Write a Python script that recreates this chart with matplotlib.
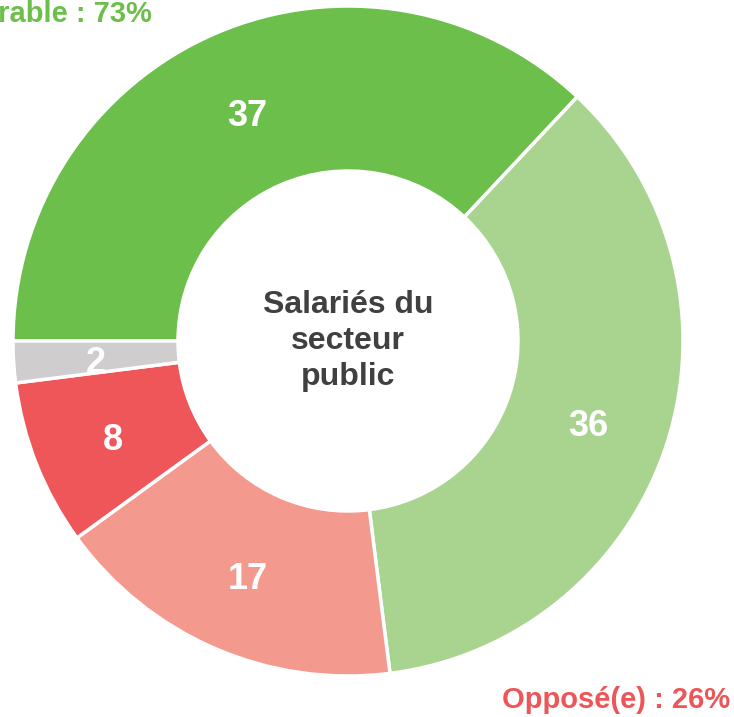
import matplotlib.pyplot as plt

plt.rcParams['font.family'] = ['Liberation Sans', 'DejaVu Sans']

values = [37, 36, 17, 8, 2]
colors = ['#6CBF4B', '#A9D48F', '#F4998E', '#EF565A', '#CFCDCE']
center_text = 'Salariés du\nsecteur\npublic'
fav_label = 'Favorable : 73%'
opp_label = 'Opposé(e) : 26%'

W, H = 734, 717
fig = plt.figure(figsize=(W / 100, H / 100), dpi=100)
ax = fig.add_axes([0, 0, 1, 1])
ax.set_xlim(0, W)
ax.set_ylim(0, H)
ax.set_aspect('equal')
ax.axis('off')

cx, cy = 348, H - 341
R = 335
width = 165

wedges, texts = ax.pie(values, colors=colors, startangle=180, counterclock=False,
                       center=(cx, cy), radius=R, labels=[str(v) for v in values],
                       labeldistance=(R - width / 2) / R,
                       wedgeprops=dict(width=width, edgecolor='white', linewidth=2.5),
                       textprops=dict(color='white', fontsize=26, fontweight='bold',
                                      ha='center', va='center'))
# labels sit a little below the ring middle in the original
for t in texts:
    t.set_y(t.get_position()[1] - 7)
ax.set_xlim(0, W)
ax.set_ylim(0, H)

ax.text(cx, cy, center_text, ha='center', va='center', fontsize=23,
        fontweight='bold', color='#404040', linespacing=1.27)

ax.text(152, H - 14, fav_label, ha='right', va='center', fontsize=21,
        fontweight='bold', color='#6CBF4B')
ax.text(730, H - 700, opp_label, ha='right', va='center', fontsize=21,
        fontweight='bold', color='#EE5558')

fig.savefig('out.png', dpi=100)
